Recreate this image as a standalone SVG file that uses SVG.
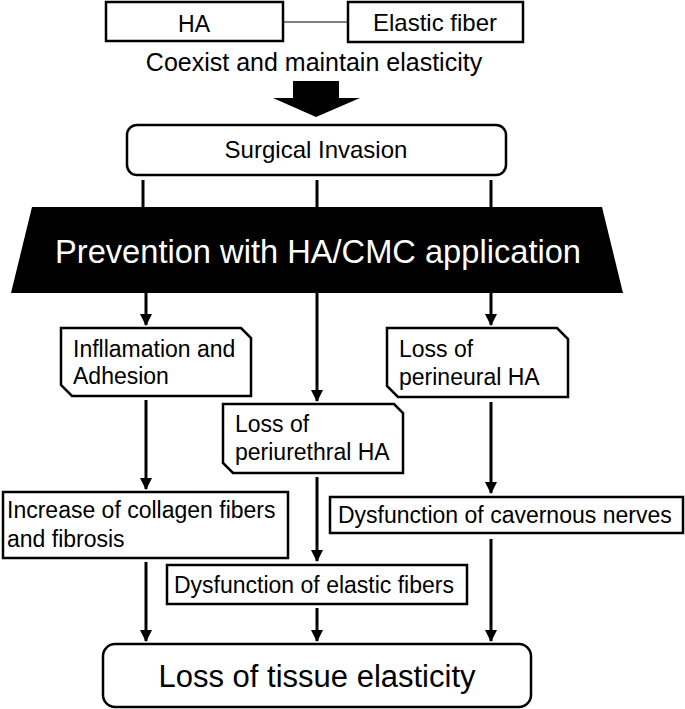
<svg xmlns="http://www.w3.org/2000/svg" width="685" height="709" viewBox="0 0 685 709">
<defs>
<style>
text{font-family:"Liberation Sans",Arial,sans-serif;fill:#000}
.box{fill:#fff;stroke:#000;stroke-width:2.5}
.t23{font-size:23px}
.ln{stroke:#000;stroke-width:3;fill:none}
.arr{stroke:#000;stroke-width:3;fill:none;marker-end:url(#ah)}
</style>
<marker id="ah" markerUnits="userSpaceOnUse" markerWidth="12" markerHeight="12" refX="11" refY="6" orient="auto">
<path d="M0,0 L12,6 L0,12 Z" fill="#000"/>
</marker>
</defs>
<rect width="685" height="709" fill="#fff"/>
<g id="connectors">
<line x1="283" y1="22" x2="348" y2="22" stroke="#000" stroke-width="1"/>
<polygon points="293,81 339,81 339,98 360,98 316,117 273,98 293,98" fill="#000"/>
<line class="ln" x1="143" y1="180" x2="143" y2="208"/>
<line class="ln" x1="317" y1="180" x2="317" y2="208"/>
<line class="ln" x1="491" y1="180" x2="491" y2="208"/>
<line class="arr" x1="146" y1="292" x2="146" y2="325"/>
<line class="arr" x1="317" y1="292" x2="317" y2="401"/>
<line class="arr" x1="491" y1="292" x2="491" y2="325"/>
<line class="arr" x1="146" y1="400" x2="146" y2="489"/>
<line class="arr" x1="317" y1="477" x2="317" y2="561"/>
<line class="arr" x1="491" y1="402" x2="491" y2="493"/>
<line class="arr" x1="146" y1="562" x2="146" y2="641"/>
<line class="arr" x1="317" y1="608" x2="317" y2="641"/>
<line class="arr" x1="491" y1="539" x2="491" y2="641"/>
</g>
<g id="ha">
<rect class="box" x="106" y="2" width="177" height="39"/>
<text x="194" y="32" font-size="23" text-anchor="middle">HA</text>
</g>
<g id="elastic-fiber">
<rect class="box" x="348" y="2" width="175" height="40"/>
<text x="435" y="31" font-size="24" text-anchor="middle">Elastic fiber</text>
</g>
<g id="coexist">
<text x="314" y="71" font-size="25" text-anchor="middle">Coexist and maintain elasticity</text>
</g>
<g id="surgical">
<rect class="box" x="127" y="125" width="379" height="50" rx="10"/>
<text x="316" y="158" font-size="24" text-anchor="middle">Surgical Invasion</text>
</g>
<g id="prevention">
<polygon points="32,207 602,207 623,293 11,293" fill="#000"/>
<text x="55" y="263" font-size="33" fill="#fff" style="fill:#fff" textLength="526" lengthAdjust="spacingAndGlyphs">Prevention with HA/CMC application</text>
</g>
<g id="inflammation">
<path class="box" d="M61,328 H241 L251,338 V396 H72 L61,385 Z"/>
<text class="t23" x="73" y="357">Infllamation and</text>
<text class="t23" x="73" y="384">Adhesion</text>
</g>
<g id="periurethral">
<path class="box" d="M223,404 H394 L403,413 V473 H233 L223,463 Z"/>
<text class="t23" x="235" y="432">Loss of</text>
<text class="t23" x="235" y="460">periurethral HA</text>
</g>
<g id="perineural">
<path class="box" d="M387,328 H557 L568,339 V397 H398 L387,386 Z"/>
<text class="t23" x="399" y="357">Loss of</text>
<text class="t23" x="399" y="385">perineural HA</text>
</g>
<g id="collagen">
<rect class="box" x="3" y="492" width="285" height="66"/>
<text class="t23" x="7" y="518">Increase of collagen fibers</text>
<text class="t23" x="7" y="547">and fibrosis</text>
</g>
<g id="cavernous">
<rect class="box" x="330" y="497" width="353" height="36"/>
<text class="t23" x="338" y="523">Dysfunction of cavernous nerves</text>
</g>
<g id="elastic-dysfunction">
<rect class="box" x="167" y="565" width="300" height="39"/>
<text class="t23" x="174" y="593">Dysfunction of elastic fibers</text>
</g>
<g id="loss-elasticity">
<rect class="box" x="103" y="644" width="428" height="63" rx="12"/>
<text x="317" y="687" font-size="31" text-anchor="middle">Loss of tissue elasticity</text>
</g>
</svg>
